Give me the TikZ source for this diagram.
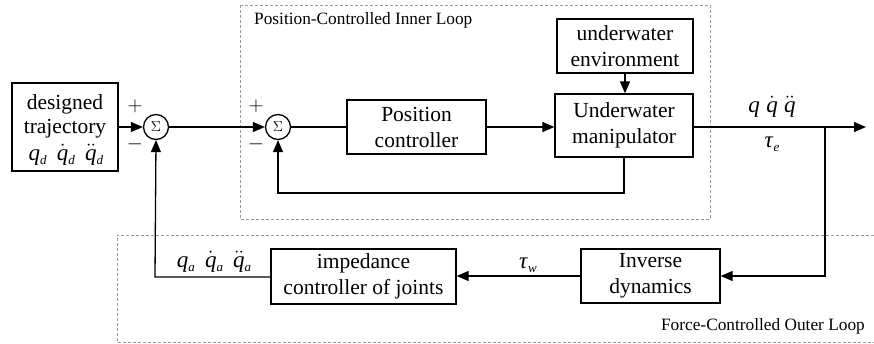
\documentclass[tikz,border=0pt]{standalone}
\usepackage{fontspec}
\setmainfont{Liberation Serif}
\usetikzlibrary{arrows.meta}
\newcommand{\vq}{\mbox{\itshape q}}
\newcommand{\vqd}{$\dot{\vq}$}
\newcommand{\vqdd}{$\ddot{\vq}$}
\newcommand{\sbs}[1]{\raisebox{-4pt}{\fontsize{13}{13}\selectfont\textit{#1}}}
\begin{document}
\begin{tikzpicture}[x=1pt,y=-1pt,
  blk/.style={draw, line width=1.3pt, rectangle, inner sep=0pt, align=center,
    font=\fontsize{21.5}{26}\selectfont},
  sumc/.style={draw, line width=1.3pt, circle, minimum size=25pt, inner sep=0pt,
    font=\fontsize{14}{16}\selectfont},
  wire/.style={line width=1.3pt},
  arr/.style={line width=1.3pt, -{Triangle[length=12pt,width=10pt]}},
  grp/.style={draw=gray!80, line width=0.8pt, dash pattern=on 3pt off 2pt},
  lbl/.style={font=\fontsize{23}{26}\selectfont, inner sep=0pt},
  txt/.style={font=\fontsize{21.5}{25}\selectfont, inner sep=0pt, align=center},
  small/.style={font=\fontsize{17.3}{19}\selectfont, inner sep=0pt},
  sign/.style={font=\fontsize{20}{22}\selectfont, inner sep=0pt}]
\useasboundingbox (0,0) rectangle (874,343);
% group frames
\draw[grp] (240,5) rectangle (710,219);
\draw[grp] (874,235) -- (117,235) -- (117,342) -- (874,342);
\node[small, anchor=west] (tin) at (254,20) {Position-Controlled Inner Loop};
\node[small, anchor=east] (tout) at (865,326) {Force-Controlled Outer Loop};
% blocks
\node[blk, minimum width=106pt, minimum height=88pt] (traj) at (65,127) {};
\node[txt] (t1) at (65,104) {designed};
\node[txt] (t2) at (65,129) {trajectory};
\node[lbl] (t3) at (66,155) {\vq\sbs{d}\;\,\vqd\sbs{d}\;\,\vqdd\sbs{d}};
\node[sumc] (s1) at (156,127) {$\Sigma$};
\node[sumc] (s2) at (278,127) {$\Sigma$};
\node[blk, minimum width=139pt, minimum height=54pt] (pc) at (416.5,127) {Position\\ controller};
\node[blk, minimum width=138pt, minimum height=63pt] (um) at (624,125.5) {Underwater\\ manipulator};
\node[blk, minimum width=136pt, minimum height=54pt] (ue) at (625,46) {underwater\\ environment};
\node[blk, minimum width=139pt, minimum height=54pt] (idyn) at (650.5,276) {Inverse\\ dynamics};
\node[blk, minimum width=185pt, minimum height=55pt] (ic) at (363.5,276.5) {impedance\\ controller of joints};
% signs
\node[sign] (p1) at (135,106) {$+$};
\node[sign] (m1) at (135,144) {$-$};
\node[sign] (p2) at (256,106) {$+$};
\node[sign] (m2) at (256,144) {$-$};
% coordinates
\coordinate (out) at (866,127);
\coordinate (br) at (825,127);
\coordinate (fb1) at (624,193);
\coordinate (fb2) at (278,193);
\coordinate (fa) at (155,277);
% connectors
\draw[arr] (traj.east) -- (s1.west);
\draw[arr] (s1.east) -- (s2.west);
\draw[wire] (s2.east) -- (pc.west);
\draw[arr] (pc.east) -- (um.west |- pc.east);
\draw[arr] (ue.south) -- (ue.south |- um.north);
\draw[arr] (um.east |- out) -- (out);
\draw[arr] (um.south) -- (fb1) -- (fb2) -- (s2.south);
\draw[arr] (br) -- (br |- idyn.east) -- (idyn.east);
\draw[arr] (idyn.west) -- (ic.east |- idyn.west);
\draw[arr] (ic.west |- fa) -- (fa) -- (s1.south);
% signal labels
\node[lbl] (lq) at (772,107) {\vq\;\vqd\;\vqdd};
\node[lbl] (lt) at (772,144) {\textit{τ}\sbs{e}};
\node[lbl] (lw) at (528,265) {\textit{τ}\sbs{w}};
\node[lbl] (la) at (214,262) {\vq\sbs{a}\;\,\vqd\sbs{a}\;\,\vqdd\sbs{a}};
\end{tikzpicture}
\end{document}
